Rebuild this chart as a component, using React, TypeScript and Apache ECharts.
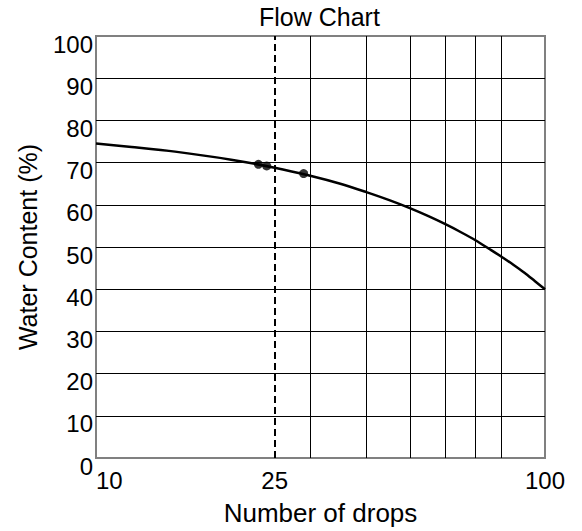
import React, { useEffect, useRef } from "react";
import * as echarts from "echarts";

const curveX = [10, 12, 15, 20, 25, 30, 35, 40, 45, 50, 55, 60, 65, 70, 75, 80, 85, 90, 95, 100];
const curveY = [74.5, 73.7, 72.6, 70.7, 68.8, 66.9, 65.0, 63.0, 61.1, 59.2, 57.3, 55.4, 53.5, 51.6, 49.6, 47.7, 45.8, 43.9, 41.9, 40.0];
const pointX = [23, 24, 29];
const pointY = [69.6, 69.2, 67.4];
const gridX = [20, 30, 40, 50, 60, 70, 80, 90];
const xTickLabels = [10, 25, 100];
const dashedX = 25;

const FONT = "'Liberation Sans', Arial, Helvetica, sans-serif";

export default function App() {
  const ref = useRef<HTMLDivElement>(null);
  useEffect(() => {
    if (!ref.current) return;
    const chart = echarts.init(ref.current, undefined, { renderer: "svg" });
    chart.setOption({
      animation: false,
      backgroundColor: "#ffffff",
      textStyle: { fontFamily: FONT },
      title: {
        text: "Flow Chart",
        left: 259,
        top: 4,
        padding: 0,
        textStyle: { fontSize: 25, fontWeight: "normal", color: "#000", fontFamily: FONT },
      },
      grid: {
        left: 96,
        right: 37,
        top: 36,
        bottom: 71,
        show: true,
        borderColor: "#808080",
        borderWidth: 2,
        backgroundColor: "transparent",
        containLabel: false,
      },
      xAxis: {
        type: "log",
        logBase: 10,
        min: 10,
        max: 100,
        name: "Number of drops",
        nameLocation: "middle",
        nameGap: 42,
        nameTextStyle: { fontSize: 26, color: "#000", fontFamily: FONT },
        axisLine: { show: false },
        axisTick: { show: false, customValues: gridX },
        splitLine: {
          show: true,
          showMinLine: false,
          showMaxLine: false,
          lineStyle: { color: "#000", width: 1 },
        },
        axisLabel: {
          customValues: xTickLabels,
          fontSize: 24,
          color: "#000",
          margin: 10,
          alignMinLabel: "left",
          fontFamily: FONT,
        },
      },
      yAxis: {
        type: "value",
        min: 0,
        max: 100,
        interval: 10,
        name: "Water Content (%)",
        nameLocation: "middle",
        nameGap: 56,
        nameTextStyle: { fontSize: 25, color: "#000", fontFamily: FONT },
        axisLine: { show: false },
        axisTick: { show: false },
        splitLine: {
          show: true,
          showMinLine: false,
          showMaxLine: false,
          lineStyle: { color: "#000", width: 1 },
        },
        axisLabel: {
          fontSize: 24,
          color: "#000",
          margin: 3,
          verticalAlign: "top",
          lineHeight: 16,
          fontFamily: FONT,
        },
      },
      series: [
        {
          type: "line",
          data: curveX.map((x, i) => [x, curveY[i]]),
          showSymbol: false,
          symbol: "none",
          smooth: 0.3,
          lineStyle: { color: "#000", width: 2.5 },
          silent: true,
          z: 3,
          markLine: {
            silent: true,
            symbol: "none",
            label: { show: false },
            lineStyle: { type: [7, 4], color: "#000", width: 2 },
            data: [{ xAxis: dashedX }],
          },
        },
        {
          type: "scatter",
          data: pointX.map((x, i) => [x, pointY[i]]),
          symbol: "circle",
          symbolSize: 9,
          itemStyle: { color: "#000" },
          silent: true,
          z: 4,
        },
      ],
    });
    return () => chart.dispose();
  }, []);
  return (
    <div
      ref={ref}
      style={{ position: "absolute", left: 0, top: 0, width: 582, height: 531, background: "#fff" }}
    />
  );
}
